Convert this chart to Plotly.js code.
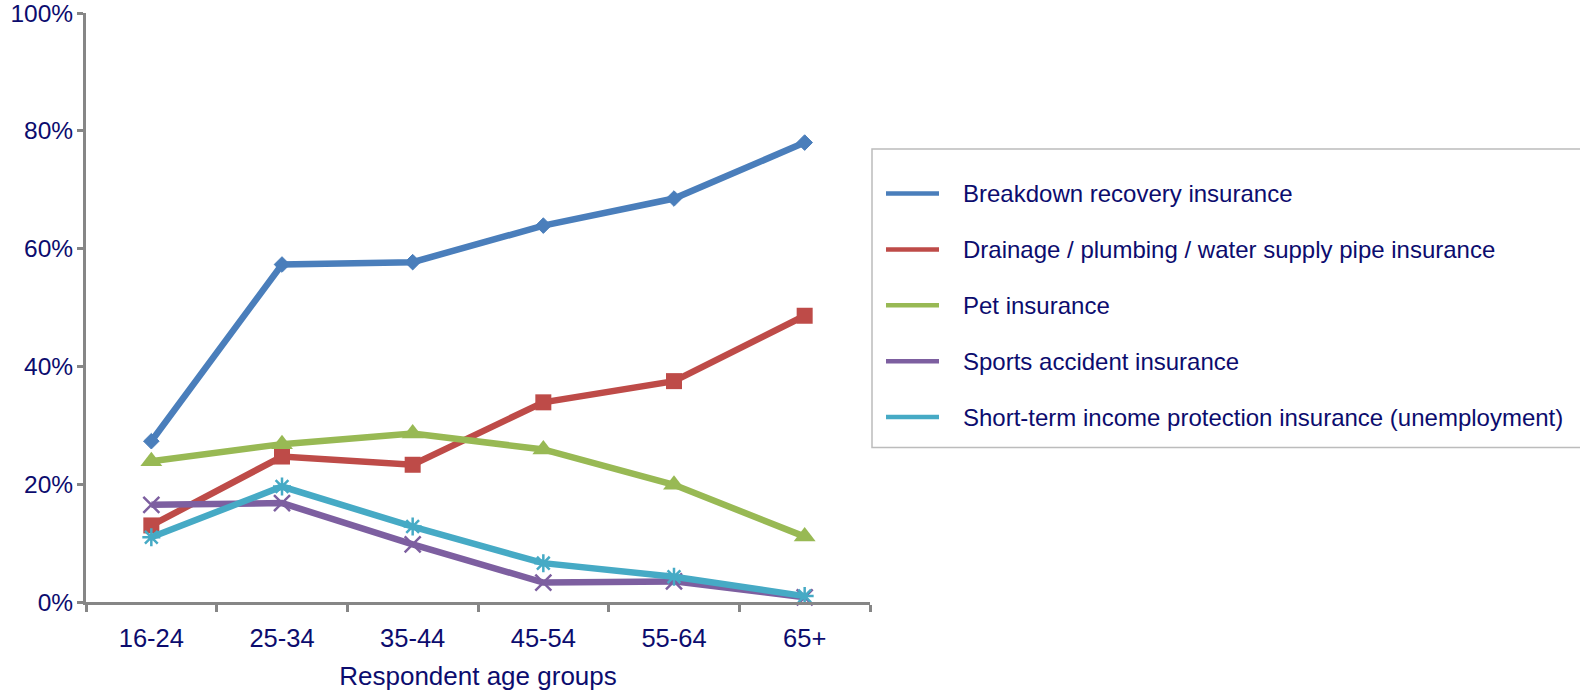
<!DOCTYPE html>
<html>
<head>
<meta charset="utf-8">
<script src="https://cdn.plot.ly/plotly-3.0.1.min.js"></script>
<style>
  html, body { margin: 0; padding: 0; background: #ffffff; }
  #chart { width: 1580px; height: 691px; }
</style>
</head>
<body>
<div id="chart"></div>
<script>
// Share of respondents holding each type of insurance, by age group (%)
const ageGroups = ['16-24', '25-34', '35-44', '45-54', '55-64', '65+'];

const breakdownRecovery = [27.3, 57.3, 57.7, 63.9, 68.5, 78.0];
const drainagePlumbing  = [13.0, 24.7, 23.3, 33.9, 37.5, 48.6];
const petInsurance      = [23.9, 26.8, 28.6, 25.9, 19.9, 11.1];
const sportsAccident    = [16.5, 16.8, 9.8, 3.3, 3.5, 0.8];
const incomeProtection  = [11.0, 19.6, 12.8, 6.6, 4.3, 1.0];

const seriesNames = [
  'Breakdown recovery insurance',
  'Drainage / plumbing / water supply pipe insurance',
  'Pet insurance',
  'Sports accident insurance',
  'Short-term income protection insurance (unemployment)'
];
const seriesValues = [breakdownRecovery, drainagePlumbing, petInsurance, sportsAccident, incomeProtection];

const yTickValues = [0, 20, 40, 60, 80, 100];
const yTickLabels = ['0%', '20%', '40%', '60%', '80%', '100%'];

const colors = ['#4A7EBB', '#BE4B48', '#98B954', '#7D5FA0', '#46AAC5'];
const markerStyles = [
  { symbol: 'diamond', size: 12, line: { width: 1 } },
  { symbol: 'square', size: 16, line: { width: 0 } },
  { symbol: 'triangle-up', size: 19, line: { width: 0 } },
  { symbol: 'x-thin-open', size: 16, line: { width: 2.5 } },
  { symbol: 'asterisk-open', size: 15, line: { width: 2.5 } }
];

const textColor = '#0c0c6e';
const fontFamily = '"Liberation Sans", Arial, Helvetica, sans-serif';
const axisColor = '#868686';

const W = 1580, H = 691;
const margin = { l: 86, r: 710, t: 13, b: 89, pad: 0 };
const plotW = W - margin.l - margin.r;
const plotH = H - margin.t - margin.b;
// pixel -> paper coordinate helpers for the legend panel
const px = x => (x - margin.l) / plotW;
const py = y => (H - margin.b - y) / plotH;

const traces = seriesValues.map((vals, i) => ({
  type: 'scatter',
  mode: 'lines+markers',
  x: ageGroups,
  y: vals,
  name: seriesNames[i],
  showlegend: false,
  cliponaxis: false,
  line: { color: colors[i], width: 6.5 },
  marker: Object.assign({ color: colors[i] }, markerStyles[i], {
    line: Object.assign({ color: colors[i] }, markerStyles[i].line)
  })
}));

// Legend panel: bordered box, one line swatch and label per series
const legendLeft = 872, legendTop = 149, legendBottom = 447.5, legendRight = 1583;
const rowY0 = 193.5, rowStep = 55.9;
const swatchX0 = 886, swatchX1 = 939, labelX = 961;

const shapes = [{
  type: 'rect', xref: 'paper', yref: 'paper',
  x0: px(legendLeft), x1: px(legendRight), y0: py(legendBottom), y1: py(legendTop),
  line: { color: '#bcbcbc', width: 1.5 }, fillcolor: '#ffffff', layer: 'below'
}];
const annotations = [];
seriesNames.forEach((name, i) => {
  const y = rowY0 + i * rowStep;
  shapes.push({
    type: 'line', xref: 'paper', yref: 'paper',
    x0: px(swatchX0), x1: px(swatchX1), y0: py(y), y1: py(y),
    line: { color: colors[i], width: 4.5 }
  });
  annotations.push({
    xref: 'paper', yref: 'paper', x: px(labelX), y: py(y),
    xanchor: 'left', yanchor: 'middle', showarrow: false,
    text: name, font: { family: fontFamily, size: 24, color: textColor }
  });
});

const layout = {
  width: W, height: H,
  margin: margin,
  paper_bgcolor: '#ffffff', plot_bgcolor: '#ffffff',
  showlegend: false,
  font: { family: fontFamily, size: 24, color: textColor },
  xaxis: {
    type: 'category',
    range: [-0.5, ageGroups.length - 0.5],
    tickson: 'boundaries',
    ticks: 'outside', ticklen: 7, tickwidth: 3, tickcolor: axisColor,
    ticklabelstandoff: 11,
    showline: true, linecolor: axisColor, linewidth: 3,
    showgrid: false, zeroline: false,
    tickfont: { family: fontFamily, size: 25.5, color: textColor },
    title: { text: 'Respondent age groups', standoff: 29,
             font: { family: fontFamily, size: 26, color: textColor } },
    fixedrange: true
  },
  yaxis: {
    range: [0, 100],
    tickmode: 'array',
    tickvals: yTickValues,
    ticktext: yTickLabels,
    ticklabeloverflow: 'allow',
    ticklabelstandoff: -1,
    ticks: 'outside', ticklen: 6, tickwidth: 3, tickcolor: axisColor,
    showline: true, linecolor: axisColor, linewidth: 3,
    showgrid: false, zeroline: false,
    tickfont: { family: fontFamily, size: 24.5, color: textColor },
    fixedrange: true
  },
  shapes: shapes,
  annotations: annotations
};

Plotly.newPlot('chart', traces, layout, { displayModeBar: false, staticPlot: true });
</script>
</body>
</html>
